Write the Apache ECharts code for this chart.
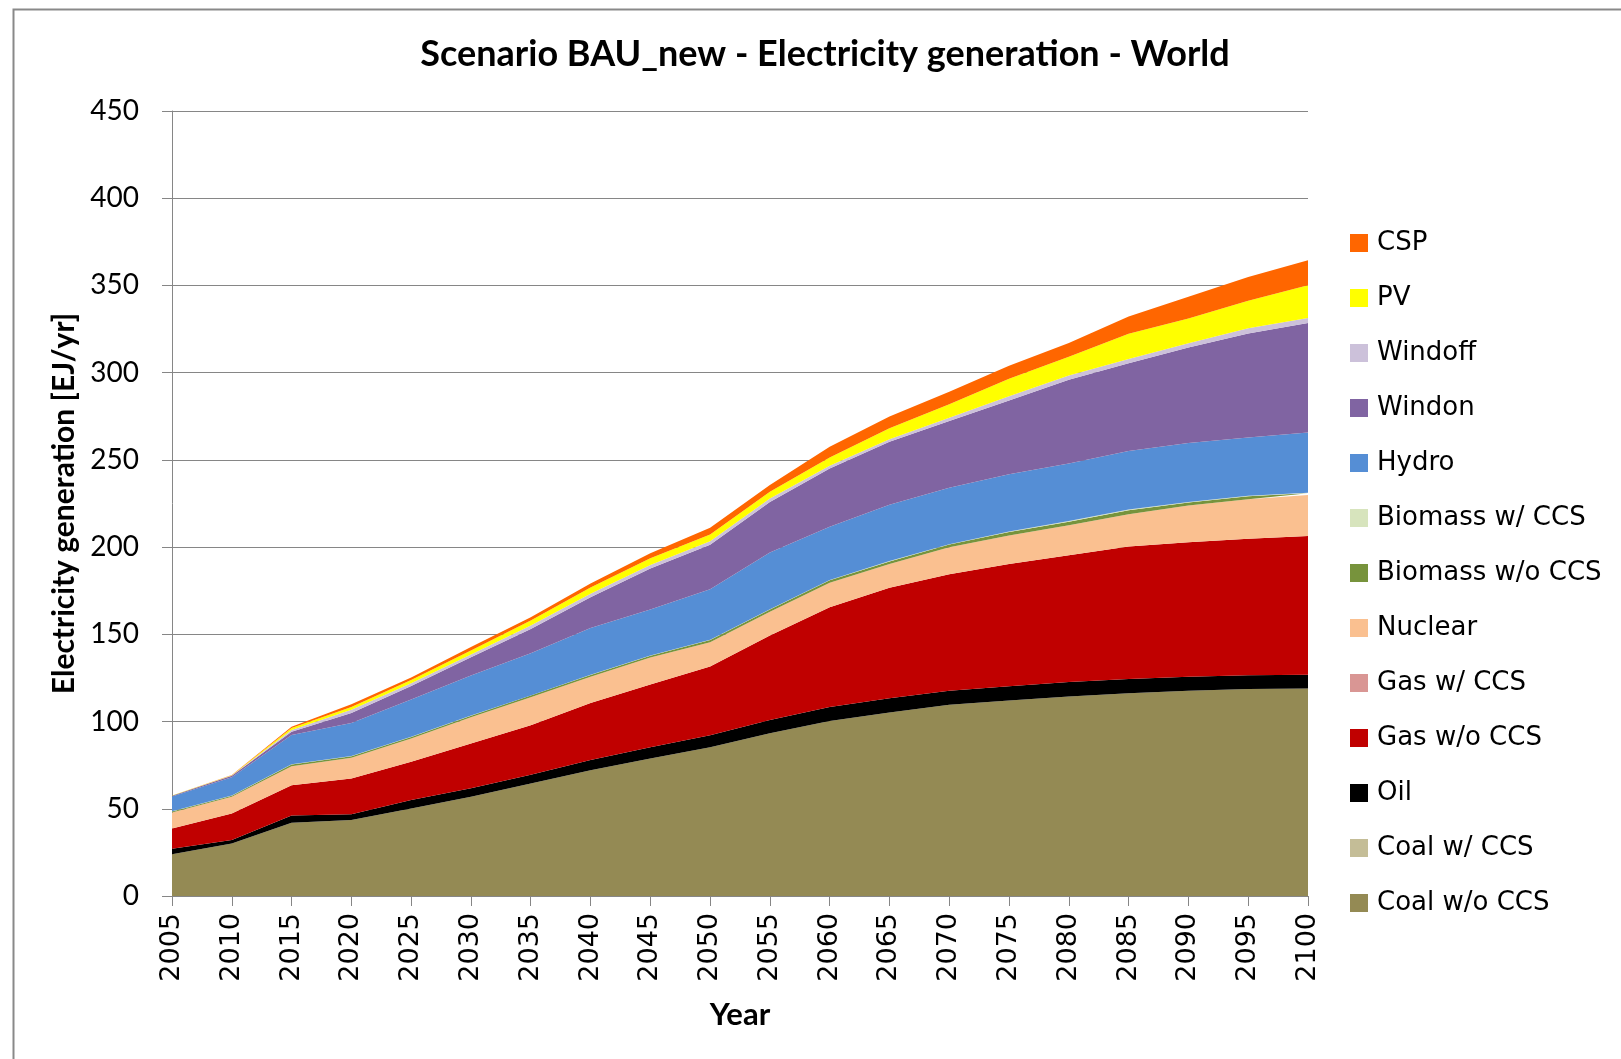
<!DOCTYPE html>
<html>
<head>
<meta charset="utf-8">
<title>Scenario BAU_new - Electricity generation - World</title>
<script src="https://cdn.jsdelivr.net/npm/echarts@6/dist/echarts.min.js"></script>
<style>
  html, body { margin: 0; padding: 0; background: #fff; }
  #chart { width: 1621px; height: 1059px; }
</style>
</head>
<body>
<div id="chart"></div>
<script>
// years on the x axis
const years = ["2005", "2010", "2015", "2020", "2025", "2030", "2035", "2040", "2045", "2050",
  "2055", "2060", "2065", "2070", "2075", "2080", "2085", "2090", "2095", "2100"];

// EJ/yr (stack order bottom -> top)
const coalWoCCS = [24.0, 30.1, 42.0, 43.5, 50.2, 56.9, 64.5, 72.1, 78.8, 85.2, 93.3, 100.3, 105.2, 109.7, 112.0, 114.4, 116.2, 117.7, 118.7, 118.9];
const coalWCCS = [0, 0, 0, 0, 0, 0, 0, 0, 0, 0, 0, 0, 0, 0, 0, 0, 0, 0, 0, 0];
const oil = [3.1, 2.0, 4.2, 3.4, 4.8, 4.8, 5.0, 5.8, 6.4, 7.0, 7.6, 8.0, 8.2, 8.0, 8.2, 8.3, 8.2, 8.0, 7.8, 8.0];
const gasWoCCS = [11.6, 15.2, 17.3, 20.5, 21.9, 25.7, 28.4, 32.8, 36.1, 39.3, 48.4, 57.2, 63.3, 66.7, 70.1, 72.6, 75.9, 77.1, 78.3, 79.4];
const gasWCCS = [0, 0, 0, 0, 0, 0, 0, 0, 0, 0, 0, 0, 0, 0, 0, 0, 0, 0, 0, 0];
const nuclear = [9.2, 9.6, 10.9, 11.8, 13.4, 15.0, 16.0, 15.0, 15.4, 14.0, 13.6, 14.0, 13.6, 15.5, 16.3, 17.3, 18.6, 21.0, 22.7, 23.6];
const bioWoCCS = [0.6, 0.6, 1.0, 0.9, 0.9, 0.9, 1.0, 1.0, 1.0, 1.3, 1.3, 1.5, 1.5, 1.6, 2.0, 2.0, 2.3, 1.8, 1.7, 1.0];
const bioWCCS = [0.1, 0.1, 0.1, 0.1, 0.1, 0.1, 0.1, 0.1, 0.1, 0.1, 0.2, 0.2, 0.2, 0.2, 0.3, 0.3, 0.3, 0.3, 0.3, 0.3];
const hydro = [8.5, 10.5, 16.8, 19.0, 21.4, 23.0, 24.2, 26.8, 26.5, 29.0, 32.5, 30.5, 32.3, 32.3, 32.8, 33.0, 33.6, 33.8, 33.3, 34.5];
const windon = [0.3, 0.8, 1.9, 5.7, 7.7, 10.5, 13.9, 17.7, 23.5, 25.5, 29.0, 33.4, 36.1, 38.3, 42.3, 48.0, 50.3, 54.7, 59.7, 62.7];
const windoff = [0.1, 0.2, 0.9, 1.9, 1.5, 1.6, 1.9, 1.9, 1.9, 1.9, 1.9, 1.5, 1.4, 1.9, 2.5, 2.5, 2.5, 2.5, 3.0, 3.0];
const pv = [0.1, 0.1, 1.2, 1.6, 1.9, 2.3, 2.9, 3.7, 3.9, 3.9, 3.9, 4.7, 6.3, 7.7, 10.0, 10.7, 14.4, 14.2, 15.7, 18.7];
const csp = [0.0, 0.1, 0.7, 1.5, 1.4, 1.9, 1.9, 2.3, 2.9, 3.9, 3.9, 6.2, 6.8, 7.2, 7.4, 7.9, 9.9, 12.4, 13.6, 14.4];

const yTicks = [0, 50, 100, 150, 200, 250, 300, 350, 400, 450];

const layers = [
  { name: "Coal w/o CCS", data: coalWoCCS, color: "#948A54" },
  { name: "Coal w/ CCS", data: coalWCCS, color: "#C4BD97" },
  { name: "Oil", data: oil, color: "#000000" },
  { name: "Gas w/o CCS", data: gasWoCCS, color: "#C00000" },
  { name: "Gas w/ CCS", data: gasWCCS, color: "#D99694" },
  { name: "Nuclear", data: nuclear, color: "#FAC090" },
  { name: "Biomass w/o CCS", data: bioWoCCS, color: "#77933C" },
  { name: "Biomass w/ CCS", data: bioWCCS, color: "#D7E4BD" },
  { name: "Hydro", data: hydro, color: "#558ED5" },
  { name: "Windon", data: windon, color: "#8064A2" },
  { name: "Windoff", data: windoff, color: "#CCC1DA" },
  { name: "PV", data: pv, color: "#FFFF00" },
  { name: "CSP", data: csp, color: "#FF6600" },
];

const gray = "#868686";

const chart = echarts.init(document.getElementById("chart"));

const option = {
  animation: false,
  backgroundColor: "#fff",
  title: {
    text: "Scenario BAU_new - Electricity generation - World",
    left: 820,
    top: 31,
    textAlign: "center",
    textStyle: { fontFamily: "Lato", fontWeight: "bold", fontSize: 36, color: "#000" },
  },
  graphic: [
    {
      type: "rect",
      left: 11,
      top: 7,
      shape: { width: 1700, height: 1200 },
      style: { fill: "none", stroke: "#898989", lineWidth: 2 },
      silent: true,
    },
  ],
  legend: {
    orient: "vertical",
    left: 1350,
    top: 230,
    padding: 0,
    itemWidth: 18,
    itemHeight: 18,
    itemGap: 29,
    icon: "rect",
    data: layers.map((l) => l.name).reverse(),
    textStyle: { fontFamily: "DejaVu Sans", fontSize: 26, color: "#000", padding: [0, 0, 0, 4] },
  },
  grid: {
    left: 172,
    right: 313,
    top: 111,
    bottom: 163,
  },
  xAxis: {
    type: "category",
    data: years,
    boundaryGap: false,
    name: "Year",
    nameLocation: "middle",
    nameGap: 103,
    nameTextStyle: { fontFamily: "Lato", fontWeight: "bold", fontSize: 31, color: "#000" },
    axisLine: { lineStyle: { color: gray } },
    axisTick: { length: 10, lineStyle: { color: gray } },
    axisLabel: {
      rotate: 90,
      margin: 17,
      fontFamily: "DejaVu Sans",
      fontSize: 27,
      color: "#000",
    },
    splitLine: { show: false },
  },
  yAxis: {
    type: "value",
    min: yTicks[0],
    max: yTicks[yTicks.length - 1],
    interval: 50,
    name: "Electricity generation [EJ/yr]",
    nameLocation: "middle",
    nameRotate: 90,
    nameGap: 88,
    nameTextStyle: { fontFamily: "Lato", fontWeight: "bold", fontSize: 30, color: "#000" },
    axisLine: { show: true, lineStyle: { color: gray } },
    axisTick: { show: true, length: 10, lineStyle: { color: gray } },
    axisLabel: { margin: 33, fontFamily: "Lato", fontSize: 28, color: "#000" },
    splitLine: { lineStyle: { color: gray, width: 1 } },
  },
  series: layers.map((l) => ({
    name: l.name,
    type: "line",
    stack: "total",
    data: l.data,
    symbol: "none",
    lineStyle: { width: 0 },
    itemStyle: { color: l.color },
    areaStyle: { color: l.color, opacity: 1 },
    z: 2,
  })),
};

chart.setOption(option);
</script>
</body>
</html>
